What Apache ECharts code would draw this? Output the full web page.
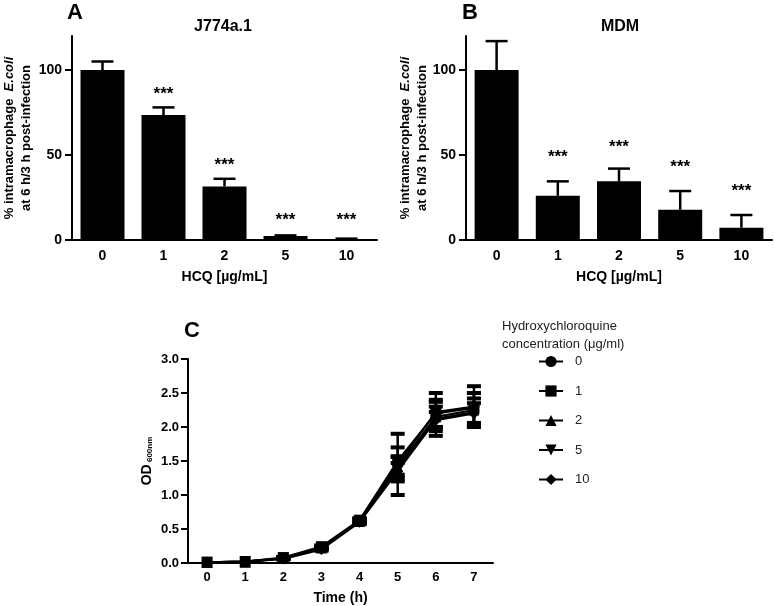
<!DOCTYPE html>
<html><head><meta charset="utf-8">
<script src="https://cdn.jsdelivr.net/npm/echarts@6/dist/echarts.min.js"></script>
<style>html,body{margin:0;padding:0;background:#fff}#c{width:774px;height:606px}</style>
</head><body><div id="c"></div>
<script>
const catsAB = ['0', '1', '2', '5', '10'];
const meanA = [100, 73.5, 31.5, 2.3, 0.6];
const errA = [5, 4.5, 4.5, 0.4, 0.2];
const starA = [null, 88, 46, 14, 14];
const meanB = [100, 26, 34.5, 17.8, 7.2];
const errB = [17, 8.5, 7.5, 11, 7.5];
const starB = [null, 51, 57, 45, 31];
const ticksAB = [0, 50, 100];

const timeCats = ['0', '1', '2', '3', '4', '5', '6', '7'];
const hcqNames = ['0', '1', '2', '5', '10'];
const od0 = [0.01, 0.02, 0.07, 0.23, 0.62, 1.45, 2.22, 2.30];
const od1 = [0.01, 0.02, 0.08, 0.24, 0.63, 1.50, 2.20, 2.28];
const od2 = [0.01, 0.01, 0.07, 0.22, 0.61, 1.42, 2.15, 2.25];
const od5 = [0.01, 0.02, 0.07, 0.21, 0.62, 1.38, 2.12, 2.22];
const od10 = [0.01, 0.02, 0.06, 0.20, 0.60, 1.35, 2.10, 2.20];
const sd0 = [0, 0, 0.01, 0.02, 0.03, 0.45, 0.28, 0.30];
const sd1 = [0, 0, 0.01, 0.02, 0.03, 0.20, 0.20, 0.22];
const sd2 = [0, 0, 0.01, 0.02, 0.03, 0.15, 0.15, 0.25];
const sd5 = [0, 0, 0.01, 0.02, 0.03, 0.18, 0.25, 0.20];
const sd10 = [0, 0, 0.01, 0.02, 0.03, 0.12, 0.12, 0.15];
const odAll = [od0, od1, od2, od5, od10];
const sdAll = [sd0, sd1, sd2, sd5, sd10];
const symbols = ['circle', 'rect', 'triangle', 'path://M0,0 L10,0 L5,9 Z', 'diamond'];

const FF = '"Liberation Sans", Arial, sans-serif';
const chart = echarts.init(document.getElementById('c'));

function axisLineStyle() { return { show: true, lineStyle: { color: '#000', width: 2 } }; }
function lbl(extra) { return Object.assign({ color: '#000', fontFamily: FF, fontWeight: 'bold', fontSize: 13 }, extra || {}); }

function upErr(params, api) {
  const x = api.value(0), m = api.value(1), e = api.value(2);
  const p0 = api.coord([x, m]); const p1 = api.coord([x, m + e]);
  const hw = 11;
  return { type: 'group', children: [
    { type: 'line', shape: { x1: p0[0], y1: p0[1], x2: p1[0], y2: p1[1] }, style: { stroke: '#000', lineWidth: 2.5 } },
    { type: 'line', shape: { x1: p1[0] - hw, y1: p1[1], x2: p1[0] + hw, y2: p1[1] }, style: { stroke: '#000', lineWidth: 2.5 } }
  ]};
}
function starItem(params, api) {
  const x = api.value(0), v = api.value(1);
  const p = api.coord([x, v]);
  return { type: 'text', x: p[0], y: p[1] + 4, style: { text: '***', fill: '#000', font: 'bold 17px ' + FF, textAlign: 'center', textVerticalAlign: 'middle' } };
}
function bothErr(params, api) {
  const x = api.value(0), m = api.value(1), e = api.value(2);
  if (!e) return null;
  const p0 = api.coord([x, m - e]); const p1 = api.coord([x, m + e]);
  const hw = 7;
  return { type: 'group', children: [
    { type: 'line', shape: { x1: p0[0], y1: p0[1], x2: p1[0], y2: p1[1] }, style: { stroke: '#000', lineWidth: 2.5 } },
    { type: 'line', shape: { x1: p1[0] - hw, y1: p1[1], x2: p1[0] + hw, y2: p1[1] }, style: { stroke: '#000', lineWidth: 4 } },
    { type: 'line', shape: { x1: p0[0] - hw, y1: p0[1], x2: p0[0] + hw, y2: p0[1] }, style: { stroke: '#000', lineWidth: 4 } }
  ]};
}

const yNameAB = '{n|% intramacrophage  }{i|E.coli}\n{n|at 6 h/3 h post-infection}';
const yNameRich = { n: { fontFamily: FF, fontWeight: 'bold', fontSize: 13, color: '#000', lineHeight: 17 },
                    i: { fontFamily: FF, fontWeight: 'bold', fontStyle: 'italic', fontSize: 13, color: '#000', lineHeight: 17 } };

function barXAxis(gi) {
  return { type: 'category', gridIndex: gi, data: catsAB, boundaryGap: true,
    axisLine: axisLineStyle(), axisTick: { alignWithLabel: true, length: 6, lineStyle: { color: '#000', width: 2 } },
    axisLabel: lbl({ fontSize: 14, margin: 9 }), name: 'HCQ [µg/mL]', nameLocation: 'middle', nameGap: 30,
    nameTextStyle: lbl({ fontSize: 14 }) };
}
function barYAxis(gi, gap) {
  return { type: 'value', gridIndex: gi, min: 0, max: 120, splitLine: { show: false },
    axisLine: axisLineStyle(), axisTick: { show: true, length: 7, customValues: ticksAB, lineStyle: { color: '#000', width: 2 } },
    axisLabel: lbl({ fontSize: 14, margin: 10, customValues: ticksAB }),
    name: yNameAB, nameLocation: 'middle', nameRotate: 90, nameGap: gap, nameTextStyle: { rich: yNameRich } };
}

const series = [
  { type: 'bar', xAxisIndex: 0, yAxisIndex: 0, data: meanA, barWidth: 44, itemStyle: { color: '#000' }, silent: true },
  { type: 'custom', xAxisIndex: 0, yAxisIndex: 0, renderItem: upErr, data: meanA.map((m, i) => [i, m, errA[i]]), z: 5 },
  { type: 'custom', xAxisIndex: 0, yAxisIndex: 0, renderItem: starItem, data: starA.map((s, i) => [i, s]).filter(d => d[1] != null), z: 5 },
  { type: 'bar', xAxisIndex: 1, yAxisIndex: 1, data: meanB, barWidth: 44, itemStyle: { color: '#000' }, silent: true },
  { type: 'custom', xAxisIndex: 1, yAxisIndex: 1, renderItem: upErr, data: meanB.map((m, i) => [i, m, errB[i]]), z: 5 },
  { type: 'custom', xAxisIndex: 1, yAxisIndex: 1, renderItem: starItem, data: starB.map((s, i) => [i, s]).filter(d => d[1] != null), z: 5 }
];
odAll.forEach((arr, k) => {
  series.push({ type: 'line', name: hcqNames[k], xAxisIndex: 2, yAxisIndex: 2, data: arr,
    symbol: symbols[k], symbolSize: 11, itemStyle: { color: '#000' }, lineStyle: { color: '#000', width: 2.2 }, z: 4 });
  series.push({ type: 'custom', xAxisIndex: 2, yAxisIndex: 2, renderItem: bothErr,
    data: arr.map((m, i) => [i, m, sdAll[k][i]]), z: 3 });
});

chart.setOption({
  animation: false,
  backgroundColor: '#fff',
  title: [
    { text: 'A', left: 67, top: 2, padding: 0, textStyle: { fontFamily: FF, fontWeight: 'bold', fontSize: 22, color: '#000' } },
    { text: 'J774a.1', left: 223, top: 19, padding: 0, textAlign: 'center', textStyle: { fontFamily: FF, fontWeight: 'bold', fontSize: 16, color: '#000' } },
    { text: 'B', left: 462, top: 2, padding: 0, textStyle: { fontFamily: FF, fontWeight: 'bold', fontSize: 22, color: '#000' } },
    { text: 'MDM', left: 620, top: 19, padding: 0, textAlign: 'center', textStyle: { fontFamily: FF, fontWeight: 'bold', fontSize: 16, color: '#000' } },
    { text: 'C', left: 184, top: 320, padding: 0, textStyle: { fontFamily: FF, fontWeight: 'bold', fontSize: 22, color: '#000' } },
    { text: 'Hydroxychloroquine\nconcentration (μg/ml)', left: 502, top: 317, padding: 0,
      textStyle: { fontFamily: FF, fontWeight: 'normal', fontSize: 13, lineHeight: 18, color: '#222' } }
  ],
  legend: {
    data: hcqNames,
    orient: 'vertical', left: 538, top: 355, itemWidth: 24, itemHeight: 14, itemGap: 16.5, padding: 0,
    textStyle: { fontFamily: FF, fontSize: 13, color: '#222', padding: [0, 0, 0, 7] }, selectedMode: false
  },
  grid: [
    { left: 72, top: 36, width: 305, height: 204 },
    { left: 466, top: 36, width: 306, height: 204 },
    { left: 188, top: 359, width: 305, height: 204 }
  ],
  xAxis: [ barXAxis(0), barXAxis(1),
    { type: 'category', gridIndex: 2, data: timeCats, boundaryGap: true,
      axisLine: axisLineStyle(), axisTick: { alignWithLabel: true, length: 6, lineStyle: { color: '#000', width: 2 } },
      axisLabel: lbl({ fontSize: 13, margin: 8 }), name: 'Time (h)', nameLocation: 'middle', nameGap: 28,
      nameTextStyle: lbl({ fontSize: 14 }) } ],
  yAxis: [ barYAxis(0, 37), barYAxis(1, 35),
    { type: 'value', gridIndex: 2, min: 0, max: 3, interval: 0.5, splitLine: { show: false },
      axisLine: axisLineStyle(), axisTick: { show: true, length: 7, lineStyle: { color: '#000', width: 2 } },
      axisLabel: lbl({ fontSize: 13, margin: 9, formatter: v => v.toFixed(1) }),
      name: '{a|OD}{b| 600nm}', nameLocation: 'middle', nameRotate: 90, nameGap: 34,
      nameTextStyle: { rich: { a: { fontFamily: FF, fontWeight: 'bold', fontSize: 14, color: '#000' },
                               b: { fontFamily: FF, fontWeight: 'bold', fontSize: 8, color: '#000', verticalAlign: 'bottom', padding: [4, 0, 0, 0] } } } } ],
  series: series
});
</script></body></html>
